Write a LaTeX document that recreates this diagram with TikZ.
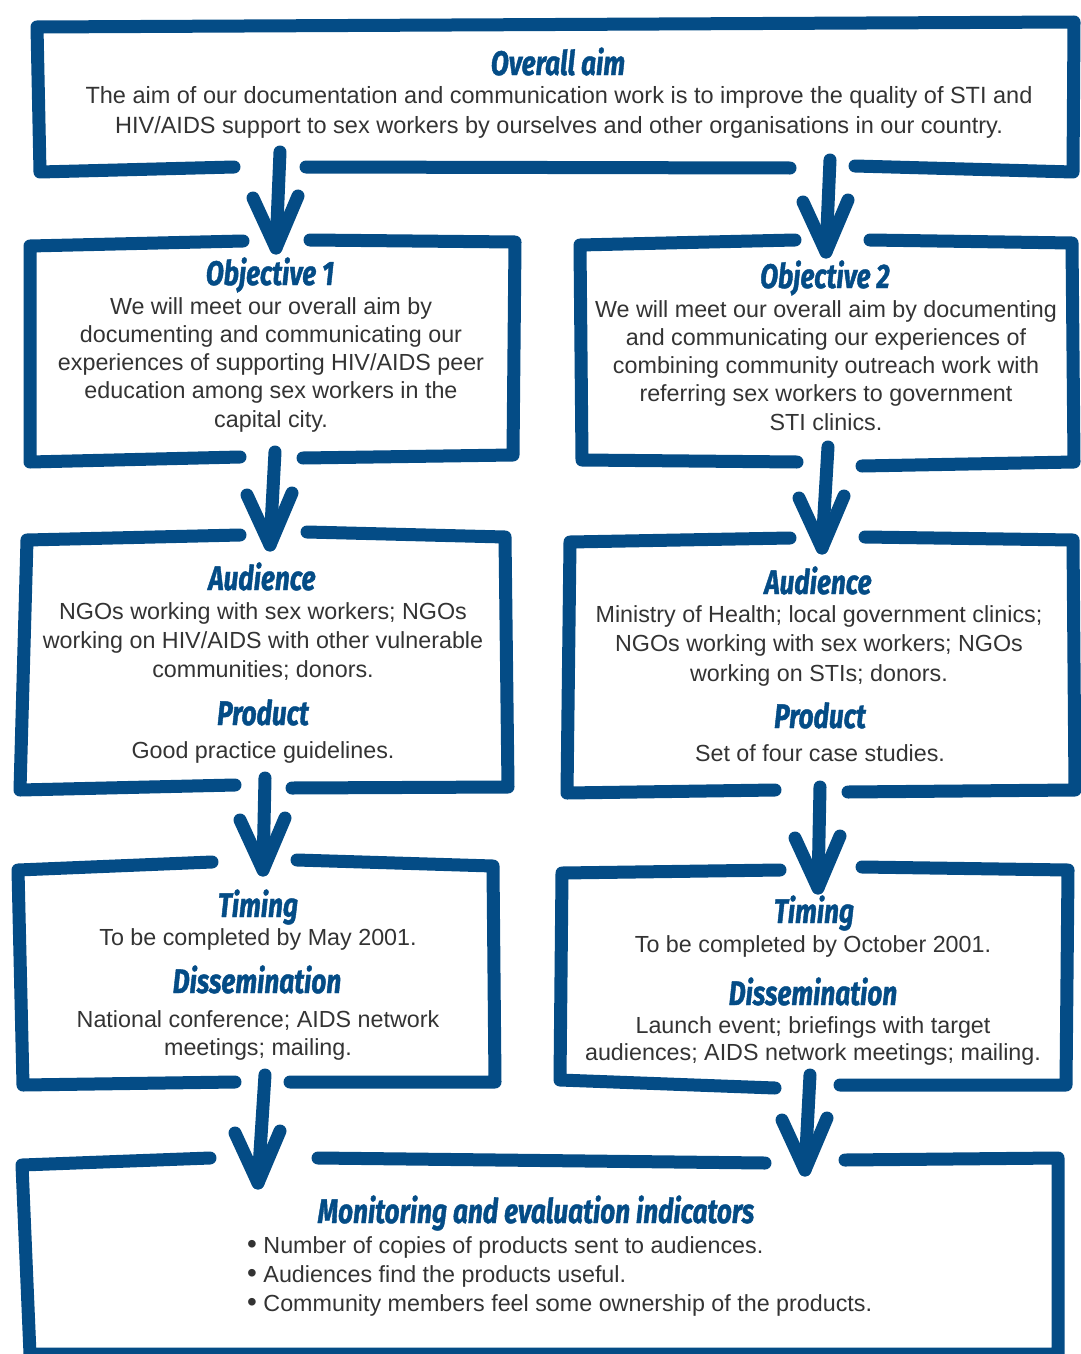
\documentclass[tikz,border=0pt]{standalone}
\usepackage{fontspec}
\setmainfont{Liberation Sans}
\newfontfamily\titlefont[FakeStretch=0.77,FakeBold=1.2]{Fira Sans}
\usetikzlibrary{calc}
\definecolor{myblue}{HTML}{044C86}
\definecolor{bodygray}{HTML}{333333}
\tikzset{
  frame/.style={draw=myblue, line width=13pt, line cap=round, line join=round},
  arr/.style={draw=myblue, line width=13pt, line cap=round, line join=round},
  ttl/.style={font=\titlefont\bfseries\itshape\fontsize{34}{34}\selectfont, text=myblue, inner sep=0pt, anchor=base},
  body/.style={font=\fontsize{23.3}{28.2}\selectfont, text=bodygray, align=center, inner sep=0pt, anchor=north},
}
\newcommand\mydownarrow[3]{%
  \coordinate (#1s) at #2;
  \coordinate (#1t) at #3;
  \draw[arr] (#1s) -- (#1t);
  \draw[arr] ($(#1t)+(-23,-50)$) -- (#1t) -- ($(#1t)+(22,-52)$);
}
\newcommand\mybullet{\raisebox{-0.5pt}{\scalebox{1.2}{\textbullet}}}
\begin{document}
\begin{tikzpicture}[x=1pt,y=-1pt]
\path[use as bounding box] (0,0) rectangle (1080,1354);

% ---------- frames ----------
% Overall aim
\draw[frame] (234,167) -- (40,172) -- (37,27) -- (1074,22) -- (1073,172) -- (855,166);
\draw[frame] (306,167) -- (790,168);
% Objective 1
\draw[frame] (243,241) -- (30,246) -- (30,462) -- (240,457);
\draw[frame] (310,240) -- (515,242) -- (513,455) -- (303,458);
% Objective 2
\draw[frame] (795,240) -- (580,245) -- (582,460) -- (797,462);
\draw[frame] (870,240) -- (1072,243) -- (1074,462) -- (862,466);
% Audience L
\draw[frame] (240,535) -- (27,540) -- (20,790) -- (235,785);
\draw[frame] (307,532) -- (505,537) -- (508,787) -- (292,788);
% Audience R
\draw[frame] (790,538) -- (570,542) -- (567,793) -- (775,790);
\draw[frame] (865,537) -- (1073,540) -- (1075,790) -- (848,792);
% Timing L
\draw[frame] (212,862) -- (18,870) -- (23,1085) -- (235,1082);
\draw[frame] (297,860) -- (493,866) -- (495,1082) -- (290,1082);
% Timing R
\draw[frame] (780,870) -- (562,873) -- (560,1080) -- (775,1088);
\draw[frame] (862,867) -- (1068,870) -- (1066,1085) -- (840,1085);
% Monitoring
\draw[frame] (210,1158) -- (22,1165) -- (30,1354) -- (1058,1354) -- (1058,1158) -- (845,1160);
\draw[frame] (318,1158) -- (765,1163);

% ---------- arrows ----------
\mydownarrow{a1}{(280,152)}{(276,248)}
\mydownarrow{a2}{(830,160)}{(826,252)}
\mydownarrow{o1}{(275,452)}{(270,545)}
\mydownarrow{o2}{(828,447)}{(822,548)}
\mydownarrow{u1}{(265,778)}{(263,870)}
\mydownarrow{u2}{(820,787)}{(818,888)}
\mydownarrow{t1}{(265,1075)}{(258,1183)}
\mydownarrow{t2}{(810,1075)}{(805,1170)}

% ---------- texts ----------
\node[ttl] (aimT) at (558,75) {Overall aim};
\node[body, font=\fontsize{23.5}{30}\selectfont] (aimB) at (559,86.3) {The aim of our documentation and communication work is to improve the quality of STI and\\HIV/AIDS support to sex workers by ourselves and other organisations in our country.};

\node[ttl] (o1T) at (270,285) {Objective 1};
\node[body] (o1B) at (271,297.3) {We will meet our overall aim by\\documenting and communicating our\\experiences of supporting HIV/AIDS peer\\education among sex workers in the\\capital city.};

\node[ttl] (o2T) at (825,288) {Objective 2};
\node[body] (o2B) at (826,300.3) {We will meet our overall aim by documenting\\and communicating our experiences of\\combining community outreach work with\\referring sex workers to government\\STI clinics.};

\node[ttl] (u1T) at (262,590) {Audience};
\node[body, font=\fontsize{23.3}{29}\selectfont] (u1B) at (263,602.3) {NGOs working with sex workers; NGOs\\working on HIV/AIDS with other vulnerable\\communities; donors.};
\node[ttl] (p1T) at (263,725) {Product};
\node[body] (p1B) at (263,741.3) {Good practice guidelines.};

\node[ttl] (u2T) at (818,594) {Audience};
\node[body, font=\fontsize{23.3}{29.5}\selectfont] (u2B) at (819,605.3) {Ministry of Health; local government clinics;\\NGOs working with sex workers; NGOs\\working on STIs; donors.};
\node[ttl] (p2T) at (820,728) {Product};
\node[body] (p2B) at (820,744.3) {Set of four case studies.};

\node[ttl] (t1T) at (258,917) {Timing};
\node[body] (t1B) at (258,928.3) {To be completed by May 2001.};
\node[ttl] (d1T) at (257,993) {Dissemination};
\node[body] (d1B) at (258,1010.3) {National conference; AIDS network\\meetings; mailing.};

\node[ttl] (t2T) at (814,923) {Timing};
\node[body] (t2B) at (813,935.3) {To be completed by October 2001.};
\node[ttl] (d2T) at (813,1005) {Dissemination};
\node[body, font=\fontsize{23.3}{27}\selectfont] (d2B) at (813,1016.3) {Launch event; briefings with target\\audiences; AIDS network meetings; mailing.};

\node[ttl] (mT) at (536,1223) {Monitoring and evaluation indicators};
\node[body, align=left, anchor=north west, font=\fontsize{23.3}{29}\selectfont] (mB) at (247,1236.3) {\mybullet\ Number of copies of products sent to audiences.\\\mybullet\ Audiences find the products useful.\\\mybullet\ Community members feel some ownership of the products.};
\end{tikzpicture}
\end{document}
